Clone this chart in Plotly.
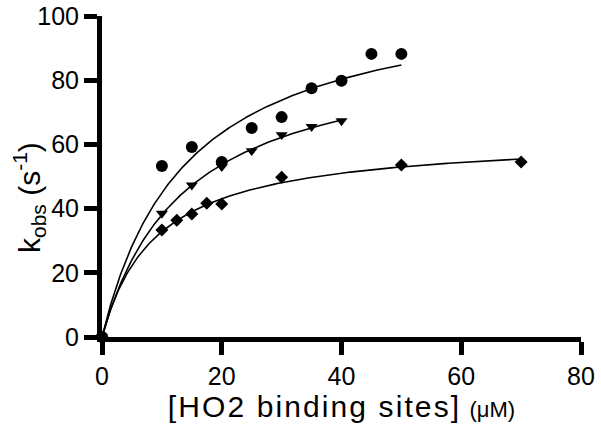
import numpy as np
import plotly.graph_objects as go

# Data
circle_x = [0, 10, 15, 20, 25, 30, 35, 40, 45, 50]
circle_y = [0, 53.3, 59.2, 54.5, 65.1, 68.5, 77.5, 79.8, 88.2, 88.2]

tri_x = [0, 10, 15, 20, 25, 30, 35, 40]
tri_y = [0, 38.5, 47.3, 53.0, 58.0, 63.0, 65.5, 67.3]

dia_x = [0, 10, 12.5, 15, 17.5, 20, 30, 50, 70]
dia_y = [0, 33.3, 36.4, 38.3, 41.7, 41.4, 49.8, 53.6, 54.5]

x_ticks = [0, 20, 40, 60, 80]
y_ticks = [0, 20, 40, 60, 80, 100]


def hyperbolic_fit(xs, ys):
    """Least-squares fit of y = Vmax*x/(K+x) by a grid over K."""
    xs = np.asarray(xs, float)
    ys = np.asarray(ys, float)
    best = None
    for K in np.linspace(0.5, 100, 4000):
        f = xs / (K + xs)
        V = np.sum(ys * f) / np.sum(f * f)
        sse = np.sum((ys - V * f) ** 2)
        if best is None or sse < best[0]:
            best = (sse, V, K)
    return best[1], best[2]


FONT = "Liberation Sans, Arial, sans-serif"
fig = go.Figure()

series = [
    (circle_x, circle_y, "circle", 12),
    (tri_x, tri_y, "triangle-down", 10.5),
    (dia_x, dia_y, "diamond", 10),
]

for xs, ys, sym, sz in series:
    V, K = hyperbolic_fit(xs, ys)
    xf = np.linspace(0, max(xs), 300)
    yf = V * xf / (K + xf)
    fig.add_trace(go.Scatter(x=xf, y=yf, mode="lines",
                             line=dict(color="black", width=1.6),
                             showlegend=False, hoverinfo="skip",
                             cliponaxis=False))

for xs, ys, sym, sz in reversed(series):
    fig.add_trace(go.Scatter(x=xs, y=ys, mode="markers",
                             marker=dict(symbol=sym, size=sz, color="black",
                                         line=dict(width=0)),
                             showlegend=False, cliponaxis=False))

L, R, T, B = 102, 20, 16, 100
W, H = 601, 437
pw, ph = W - L - R, H - T - B

fig.update_layout(
    width=W, height=H,
    margin=dict(l=L, r=R, t=T, b=B),
    paper_bgcolor="white", plot_bgcolor="white",
    font=dict(family=FONT, color="black", size=25),
    xaxis=dict(
        range=[0, 80], tickvals=x_ticks, ticktext=[str(v) for v in x_ticks],
        showgrid=False, zeroline=False, automargin=False,
        showline=True, linecolor="black", linewidth=5,
        ticks="outside", ticklen=13, tickwidth=5, tickcolor="black",
        tickfont=dict(size=25, family=FONT),
        title=dict(text="<span style='letter-spacing:2.1px'>[HO2 binding sites]</span> "
                        "<span style='font-size:22px'>(μM)</span>",
                   font=dict(size=30, family=FONT), standoff=4),
    ),
    yaxis=dict(
        range=[0, 100], tickvals=y_ticks, ticktext=[str(v) for v in y_ticks],
        showgrid=False, zeroline=False, automargin=False,
        showline=True, linecolor="black", linewidth=5,
        ticks="outside", ticklen=13, tickwidth=5, tickcolor="black",
        tickfont=dict(size=25, family=FONT),
    ),
    annotations=[dict(
        text="k<sub>obs</sub> (s<sup>-1</sup>)",
        textangle=-90, showarrow=False,
        xref="paper", yref="paper",
        x=(29 - L) / pw, y=(H - B - 198) / ph,
        xanchor="center", yanchor="middle",
        font=dict(size=30, family=FONT, color="black"),
    )],
)

fig.write_html("out.html", config={"displayModeBar": False},
               post_script="document.body.style.margin='0';")
